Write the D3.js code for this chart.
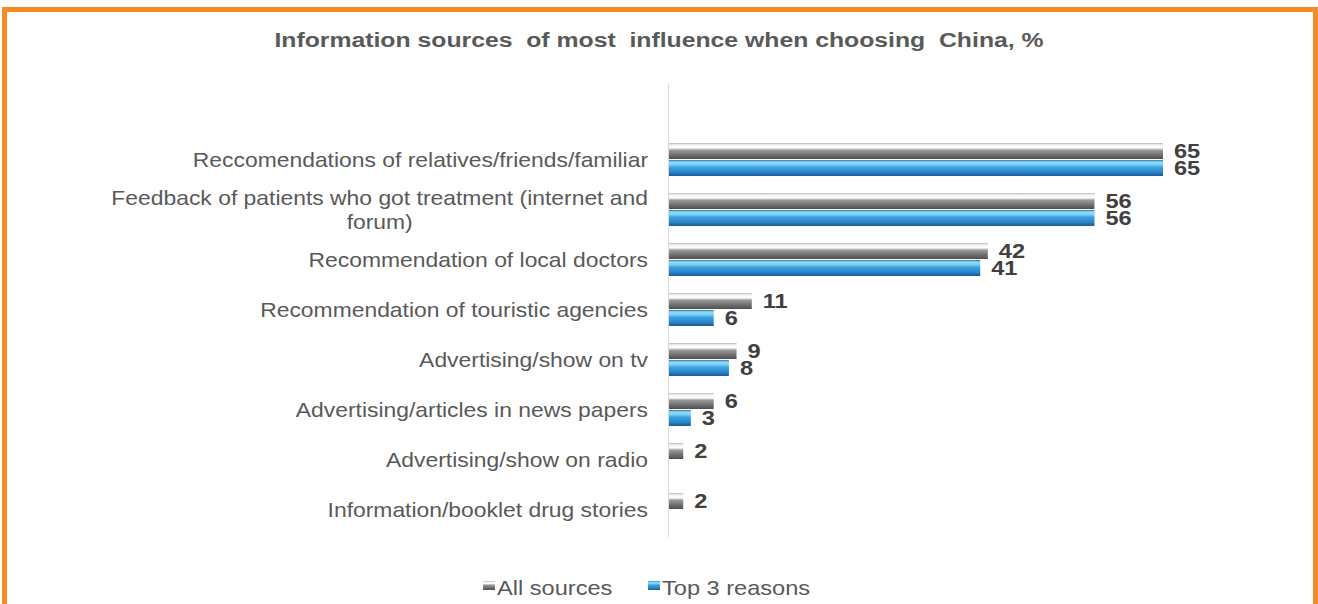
<!DOCTYPE html>
<html>
<head>
<meta charset="utf-8">
<script src="https://cdn.jsdelivr.net/npm/d3@7"></script>
<style>
  body { margin: 0; background: #fff; }
  text { font-family: "Liberation Sans", Arial, sans-serif; }
</style>
</head>
<body>
<div id="chart"></div>
<script>
const categories = [
  "Reccomendations of relatives/friends/familiar",
  "Feedback of patients who got treatment (internet and|forum)",
  "Recommendation of local doctors",
  "Recommendation of touristic agencies",
  "Advertising/show on tv",
  "Advertising/articles in news papers",
  "Advertising/show on radio",
  "Information/booklet drug stories"
];
const allSources = [65, 56, 42, 11, 9, 6, 2, 2];
const top3 = [65, 56, 41, 6, 8, 3, null, null];
const seriesNames = ["All sources", "Top 3 reasons"];

const W = 1318, H = 604;
const SX = 1.18; // the original text is a bit wider than plain Arial
const svg = d3.select("#chart").append("svg")
  .attr("width", W).attr("height", H);

// text helper, stretched horizontally around its anchor point
function label(px, py, str, opts) {
  return svg.append("text")
    .attr("transform", `translate(${px},${py}) scale(${SX},1)`)
    .attr("dy", "0.35em")
    .attr("text-anchor", opts.anchor || "start")
    .attr("font-size", opts.size)
    .attr("font-weight", opts.weight || "normal")
    .attr("fill", opts.fill)
    .attr("xml:space", "preserve")
    .text(str);
}

// gradients for the 3D-ish bars
const defs = svg.append("defs");
function grad(id, stops) {
  const g = defs.append("linearGradient").attr("id", id)
    .attr("x1", 0).attr("y1", 0).attr("x2", 0).attr("y2", 1);
  stops.forEach(s => g.append("stop").attr("offset", s[0]).attr("stop-color", s[1]));
}
grad("gGray", [[0, "#b8b8b8"], [0.12, "#f4f4f4"], [0.3, "#ffffff"], [0.45, "#9a9a9a"], [0.75, "#6e6e6e"], [1, "#505050"]]);
grad("gBlue", [[0, "#2a6fae"], [0.12, "#8fdcf7"], [0.3, "#7ccdf2"], [0.45, "#3aa2e0"], [0.75, "#2b86c9"], [1, "#1c5a96"]]);

// orange frame
svg.append("rect")
  .attr("x", 4.5).attr("y", 9.5).attr("width", 1311).attr("height", 700)
  .attr("fill", "none").attr("stroke", "#f68a24").attr("stroke-width", 5);

// title
label(659, 40, "Information sources  of most  influence when choosing  China, %",
  { anchor: "middle", size: 21, weight: "bold", fill: "#595959" });

const x = d3.scaleLinear().domain([0, 65]).range([668, 1163]);
const y = d3.scaleBand().domain(d3.range(categories.length)).range([135, 535]);
const barH = 16;

// axis line
svg.append("line")
  .attr("x1", x(0) + 0.5).attr("x2", x(0) + 0.5)
  .attr("y1", 84).attr("y2", 537)
  .attr("stroke", "#d9d9d9").attr("stroke-width", 1);

// category labels
categories.forEach((c, i) => {
  const lines = c.split("|");
  const cy = y(i) + y.bandwidth() / 2;
  const o = { anchor: "end", size: 19.4, fill: "#595959" };
  if (lines.length === 1) {
    label(648, cy, c, o);
  } else {
    const t1 = label(648, cy - 12, lines[0], o);
    const w = t1.node().getComputedTextLength() * SX;
    label(648 - w / 2, cy + 12, lines[1], { anchor: "middle", size: 19.4, fill: "#595959" });
  }
});

// bars
const series = [
  { name: seriesNames[0], values: allSources, fill: "url(#gGray)", off: -17 },
  { name: seriesNames[1], values: top3, fill: "url(#gBlue)", off: 0 }
];

series.forEach(s => {
  const data = s.values.map((v, i) => ({ v, i })).filter(d => d.v != null);
  svg.append("g").selectAll("rect").data(data).join("rect")
    .attr("x", x(0) + 1)
    .attr("y", d => y(d.i) + y.bandwidth() / 2 + s.off)
    .attr("width", d => x(d.v) - x(0) - 1)
    .attr("height", barH)
    .attr("fill", s.fill);
  data.forEach(d => {
    label(x(d.v) + 11, y(d.i) + y.bandwidth() / 2 + s.off + barH / 2, String(d.v),
      { size: 20, weight: "bold", fill: "#404040" });
  });
});

// legend
const legend = [
  { name: seriesNames[0], fill: "url(#gGray)", x: 483 },
  { name: seriesNames[1], fill: "url(#gBlue)", x: 648 }
];
legend.forEach(l => {
  svg.append("rect")
    .attr("x", l.x).attr("y", 581).attr("width", 12).attr("height", 9)
    .attr("fill", l.fill);
  label(l.x + 14, 588, l.name, { size: 20, fill: "#595959" });
});
</script>
</body>
</html>
